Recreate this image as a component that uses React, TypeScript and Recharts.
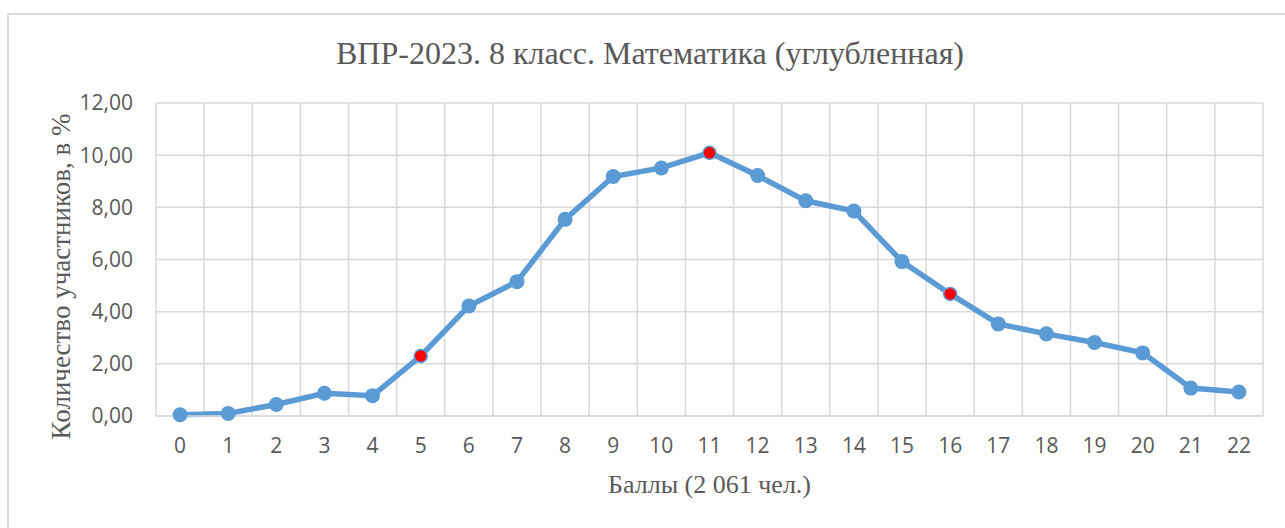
import React from 'react';
import { LineChart, Line, XAxis, YAxis, CartesianGrid, Label } from 'recharts';

const scores = [0, 1, 2, 3, 4, 5, 6, 7, 8, 9, 10, 11, 12, 13, 14, 15, 16, 17, 18, 19, 20, 21, 22];
const percents = [
  0.05, 0.1, 0.44, 0.87, 0.78, 2.3, 4.22, 5.15, 7.54, 9.18, 9.51, 10.09,
  9.22, 8.25, 7.86, 5.92, 4.68, 3.53, 3.15, 2.82, 2.42, 1.07, 0.92
];
// points drawn in red
const highlighted = [5, 11, 16];
const yTicks = [0, 2, 4, 6, 8, 10, 12];

const TITLE = 'ВПР-2023. 8 класс. Математика (углубленная)';
const X_TITLE = 'Баллы (2 061 чел.)';
const Y_TITLE = 'Количество участников, в %';

const data = scores.map((s, i) => ({ score: String(s), value: percents[i] }));

const BLUE = '#5B9BD5';
const GRID = '#D9D9D9';
const TEXT = '#595959';
const SERIF = '"Liberation Serif", "Times New Roman", serif';
const SANS = '"Open Sans", "Noto Sans", sans-serif';

const renderDot = (props: any) => {
  const { cx, cy, index } = props;
  const red = highlighted.includes(scores[index]);
  return (
    <circle
      key={`dot-${index}`}
      cx={cx}
      cy={cy}
      r={red ? 6.5 : 7.5}
      fill={red ? '#FF0000' : BLUE}
      stroke={BLUE}
      strokeWidth={red ? 1.5 : 0}
    />
  );
};

const YTitle = ({ viewBox }: any) => {
  const x = 70;
  const y = viewBox.y + viewBox.height / 2 + 17;
  return (
    <text
      x={x}
      y={y}
      transform={`rotate(-90 ${x} ${y})`}
      textAnchor="middle"
      fill={TEXT}
      fontFamily={SERIF}
      fontSize={27}
    >
      {Y_TITLE}
    </text>
  );
};

export default function App() {
  return (
    <div style={{ position: 'absolute', left: 0, top: 0, width: 1285, height: 528, overflow: 'hidden', background: '#fff' }}>
      <div
        style={{
          position: 'absolute', left: 7, top: 13, width: 1300, height: 540,
          border: `2px solid ${GRID}`, boxSizing: 'border-box'
        }}
      />
      <svg width={1285} height={100} style={{ position: 'absolute', left: 0, top: 0 }}>
        <text x={650} y={64} textAnchor="middle" fill={TEXT} fontFamily={SERIF} fontSize={32}>
          {TITLE}
        </text>
      </svg>
      <div style={{ position: 'absolute', left: 0, top: 0 }}>
        <LineChart width={1285} height={528} data={data} margin={{ top: 103, right: 22, bottom: 0, left: 0 }}>
          <CartesianGrid
            stroke={GRID}
            strokeWidth={1.5}
            verticalCoordinatesGenerator={({ offset }: any) =>
              Array.from({ length: scores.length + 1 }, (_, i) => offset.left + (i * offset.width) / scores.length)
            }
          />
          <XAxis
            dataKey="score"
            scale="band"
            height={112}
            interval={0}
            tickLine={false}
            tickSize={0}
            tickMargin={22}
            axisLine={{ stroke: GRID, strokeWidth: 1.5 }}
            tick={{ fill: TEXT, fontFamily: SANS, fontSize: 21 }}
          >
            <Label
              value={X_TITLE}
              position="insideBottom"
              offset={35}
              style={{ fill: TEXT, fontFamily: SERIF, fontSize: 26 }}
            />
          </XAxis>
          <YAxis
            width={156}
            domain={[0, 12]}
            ticks={yTicks}
            interval={0}
            axisLine={false}
            tickLine={false}
            tickSize={0}
            tickMargin={23}
            tickFormatter={(v: number) => v.toFixed(2).replace('.', ',')}
            tick={{ fill: TEXT, fontFamily: SANS, fontSize: 21 }}
          >
            <Label content={<YTitle />} />
          </YAxis>
          <Line
            type="linear"
            dataKey="value"
            stroke={BLUE}
            strokeWidth={5.5}
            dot={renderDot}
            activeDot={false}
            isAnimationActive={false}
          />
        </LineChart>
      </div>
    </div>
  );
}
